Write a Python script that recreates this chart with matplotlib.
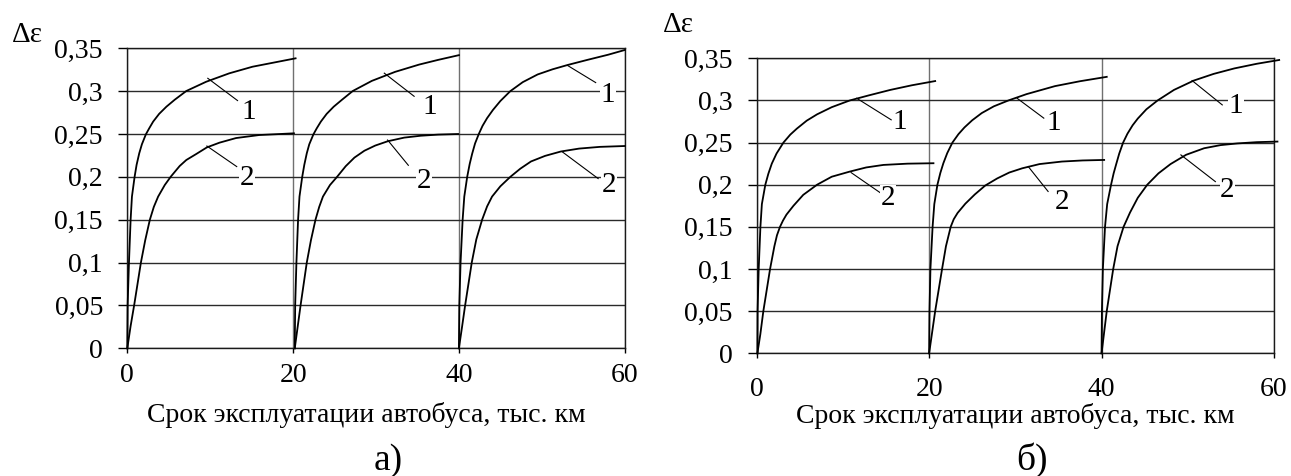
import matplotlib
matplotlib.use("Agg")
import matplotlib.pyplot as plt

plt.rcParams["font.family"] = ["Liberation Serif", "DejaVu Serif"]

# --- data (x: тыс. км, y: Δε) ---
# panel а), three service intervals, curve 1 and curve 2
a1_x = [[0, 0.04, 0.2, 0.4, 0.56, 0.88, 1.12, 1.44, 1.76, 2.24, 2.64, 3.12, 3.84, 4.72, 5.72,
         7.12, 9.52, 12.3, 15.1, 20.3],
        [20.2, 20.25, 20.4, 20.6, 20.77, 21.1, 21.35, 21.65, 21.95, 22.45, 22.85, 23.35, 24.05,
         24.9, 25.9, 27.2, 29.5, 32.3, 35.2, 37.5, 40],
        [40, 40.05, 40.2, 40.45, 40.65, 41.0, 41.3, 41.6, 41.95, 42.4, 42.85, 43.4, 44.1, 45.0,
         46.2, 47.7, 49.5, 51.3, 53.1, 55.5, 58, 60]]
a1_y = [[0, 0.05, 0.1, 0.15, 0.177, 0.2, 0.214, 0.2275, 0.238, 0.2496, 0.2566, 0.2645, 0.2735,
         0.2819, 0.29, 0.3002, 0.311, 0.3208, 0.3285, 0.3383],
        [0, 0.05, 0.1, 0.15, 0.177, 0.2, 0.214, 0.2275, 0.238, 0.2496, 0.2566, 0.2645, 0.2735,
         0.2819, 0.29, 0.3002, 0.312, 0.3225, 0.331, 0.3365, 0.342],
        [0, 0.05, 0.1, 0.15, 0.177, 0.2, 0.215, 0.227, 0.239, 0.25, 0.2595, 0.2685, 0.278,
         0.2885, 0.3, 0.3105, 0.3195, 0.3255, 0.3305, 0.3365, 0.3425, 0.348]]
a2_x = [[0, 0.4, 0.84, 1.64, 2.16, 2.72, 3.2, 3.72, 4.52, 5.24, 6.32, 7.12, 8.32, 9.6, 11.12,
         13.12, 15.9, 20.1],
        [20.2, 20.55, 20.9, 21.65, 22.15, 22.7, 23.15, 23.6, 24.45, 25.3, 26.35, 27.4, 28.6, 29.9,
         31.4, 33.4, 35.4, 37.5, 39.9],
        [40, 40.38, 40.75, 41.55, 42.1, 42.8, 43.4, 44.0, 45.0, 46.2, 47.4, 48.7, 50.4, 52.3,
         54.5, 57, 60]]
a2_y = [[0, 0.026, 0.051, 0.1, 0.126, 0.15, 0.165, 0.177, 0.1905, 0.2002, 0.2127, 0.2197,
         0.2267, 0.2344, 0.2399, 0.2453, 0.2488, 0.2508],
        [0, 0.025, 0.05, 0.1, 0.126, 0.15, 0.165, 0.177, 0.1905, 0.2, 0.2125, 0.2225, 0.2305,
         0.2365, 0.2415, 0.2458, 0.248, 0.2493, 0.25],
        [0, 0.025, 0.05, 0.1, 0.127, 0.15, 0.1655, 0.177, 0.189, 0.2, 0.2095, 0.218, 0.2245,
         0.2296, 0.233, 0.235, 0.236]]

# panel б)
b1_x = [[0.08, 0.1, 0.23, 0.43, 0.6, 1.0, 1.35, 1.75, 2.3, 3.1, 3.9, 4.65, 5.8, 7.0, 8.7, 10.8,
         13.0, 15.5, 18, 20.7],
        [20.0, 20.04, 20.15, 20.4, 20.6, 20.96, 21.3, 21.65, 22.1, 22.7, 23.4, 24.1, 25.0, 26.1,
         27.5, 29.2, 31.3, 34.6, 37.5, 40.6],
        [40, 40.04, 40.15, 40.4, 40.65, 41.1, 41.4, 41.7, 42.05, 42.5, 43.0, 43.6, 44.2, 45.2,
         46.5, 48.4, 50.7, 53, 55.4, 58, 60.6]]
b1_y = [[0, 0.05, 0.1, 0.15, 0.177, 0.2, 0.213, 0.225, 0.237, 0.25, 0.2595, 0.2665, 0.276,
         0.2835, 0.292, 0.3, 0.306, 0.3125, 0.318, 0.323],
        [0, 0.05, 0.1, 0.15, 0.177, 0.2, 0.214, 0.2255, 0.2375, 0.25, 0.26, 0.268, 0.2765,
         0.285, 0.293, 0.3, 0.3075, 0.317, 0.3228, 0.328],
        [0, 0.05, 0.1, 0.15, 0.177, 0.2, 0.2135, 0.2245, 0.237, 0.25, 0.2605, 0.2705, 0.2785,
         0.2895, 0.3, 0.3125, 0.3236, 0.3315, 0.338, 0.3435, 0.348]]
b2_x = [[0.08, 0.42, 0.77, 1.55, 2.05, 2.35, 2.7, 3.05, 3.45, 4.26, 5.4, 7.0, 8.7, 10.8, 12.7,
         14.7, 17.5, 20.5],
        [20, 20.35, 20.7, 21.5, 21.95, 22.5, 22.85, 23.3, 24.2, 25.3, 26.5, 27.9, 29.3, 30.8,
         32.8, 35.4, 37.8, 40.3],
        [40, 40.3, 40.6, 41.35, 41.85, 42.55, 43.3, 44.2, 45.3, 46.6, 48.0, 49.8, 51.9, 53.8,
         55.75, 58, 60.4]]
b2_y = [[0, 0.0225, 0.05, 0.1, 0.127, 0.14, 0.15, 0.1575, 0.1645, 0.175, 0.188, 0.2, 0.2095,
         0.2156, 0.2205, 0.2235, 0.225, 0.2255],
        [0, 0.025, 0.05, 0.1, 0.127, 0.15, 0.159, 0.1665, 0.1775, 0.1885, 0.199, 0.2075, 0.2145,
         0.2195, 0.2245, 0.2275, 0.2288, 0.2294],
        [0, 0.025, 0.05, 0.1, 0.127, 0.15, 0.167, 0.1845, 0.2, 0.2135, 0.2245, 0.2355, 0.2433,
         0.247, 0.249, 0.2505, 0.2512]]

# leader lines (x0, y0, x1, y1) and the curve number placed at (xl, yl)
a_lead1 = [(9.71, 0.315, 13.3, 0.289, 14.7, 0.276), (31, 0.321, 34.6, 0.294, 36.5, 0.282),
           (53.1, 0.330, 56.5, 0.310, 58.0, 0.296)]
a_lead2 = [(9.6, 0.236, 13.2, 0.212, 14.4, 0.199), (31.4, 0.243, 33.9, 0.2135, 35.8, 0.195),
           (52.5, 0.229, 56.8, 0.198, 58.1, 0.19)]
b_lead1 = [(11.6, 0.3026, 15.6, 0.277, 16.6, 0.275), (30.2, 0.3026, 33.3, 0.279, 34.5, 0.273),
           (50.5, 0.3236, 54.0, 0.2947, 55.6, 0.293)]
b_lead2 = [(10.95, 0.2144, 14.4, 0.19, 15.2, 0.184), (31.5, 0.2215, 33.8, 0.192, 35.4, 0.18),
           (49.2, 0.2354, 53.2, 0.2037, 54.6, 0.194)]

x_ticks = [0, 20, 40, 60]
y_ticks = [0, 0.05, 0.1, 0.15, 0.2, 0.25, 0.3, 0.35]
y_labels = ["0", "0,05", "0,1", "0,15", "0,2", "0,25", "0,3", "0,35"]
xlabel = "Срок эксплуатации автобуса, тыс. км"

W, H = 1291, 476
fig = plt.figure(figsize=(W / 100, H / 100), dpi=100)


def panel(rect, c1x, c1y, c2x, c2y, lead1, lead2, xpad, xlab_pos):
    ax = fig.add_axes(rect)
    ax.set_xlim(0, 60)
    ax.set_ylim(0, 0.35)
    ax.set_xticks(x_ticks)
    ax.set_yticks(y_ticks)
    ax.set_yticklabels(y_labels)
    ax.tick_params(axis="y", direction="out", length=6.5, width=1, labelsize=20, pad=11)
    ax.tick_params(axis="x", direction="out", length=3.6, width=1, labelsize=20, pad=xpad)
    ax.yaxis.grid(True, color="#2a2a2a", lw=1.0)
    ax.xaxis.grid(True, color="#707070", lw=1.0)
    ax.set_axisbelow(True)
    for s in ax.spines.values():
        s.set_color("#1a1a1a")
        s.set_linewidth(1.0)
    for xs, ys in zip(c1x + c2x, c1y + c2y):
        ax.plot(xs, ys, color="black", lw=1.3, clip_on=False, zorder=3,
                solid_joinstyle="round")
    for leads, num in ((lead1, "1"), (lead2, "2")):
        for x0, y0, x1, y1, xl, yl in leads:
            ax.plot([x0, x1], [y0, y1], color="black", lw=0.8, zorder=3)
            ax.text(xl, yl, num, fontsize=21, ha="center", va="center", zorder=4,
                    bbox=dict(facecolor="white", edgecolor="none", pad=0.5))
    ax.set_xlabel(xlabel, fontsize=20, va="center")
    ax.xaxis.set_label_coords(*xlab_pos)
    return ax


# axes rectangles from the pixel frame of each plot area
ax_a = panel([127.3 / W, 1 - 348.3 / H, 497.4 / W, 300 / H],
             a1_x, a1_y, a2_x, a2_y, a_lead1, a_lead2, 7.2, (0.481, -0.222))
ax_b = panel([756.7 / W, 1 - 353.3 / H, 517.3 / W, 295 / H],
             b1_x, b1_y, b2_x, b2_y, b_lead1, b_lead2, 13.7, (0.5, -0.2125))

fig.text(12 / W, 1 - 42 / H, "Δε", fontsize=21, ha="left", va="baseline")
fig.text(663 / W, 1 - 32 / H, "Δε", fontsize=21, ha="left", va="baseline")
fig.text(388 / W, 1 - 461 / H, "а)", fontsize=27, ha="center", va="center")
fig.text(1032 / W, 1 - 460 / H, "б)", fontsize=27, ha="center", va="center")

fig.savefig("out.png", dpi=100)
